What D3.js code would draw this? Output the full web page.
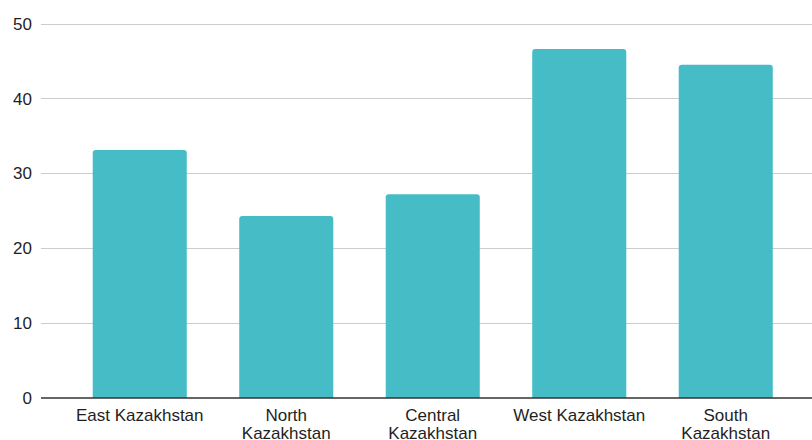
<!DOCTYPE html>
<html lang="en">
<head>
  <meta charset="UTF-8">
  <script src="https://d3js.org/d3.v7.min.js"></script>
  <style>
    body { margin: 0; background: #fff; }
    text { font-family: "Liberation Sans", Arial, sans-serif; fill: #1f1f1f; }
  </style>
  <title>Kazakhstan regions</title>
</head>
<body>
  <svg id="chart" width="812" height="440"></svg>
  <script>
    var regions = [['East Kazakhstan'], ['North', 'Kazakhstan'], ['Central', 'Kazakhstan'], ['West Kazakhstan'], ['South', 'Kazakhstan']];
    var values = [33.1, 24.3, 27.2, 46.6, 44.5];
    var yTicks = [0, 10, 20, 30, 40, 50];

    var svg = d3.select('#chart');
    var names = regions.map(r => r.join(' '));

    var x = d3.scaleBand().domain(names).range([66.5, 799]).paddingInner(0.358).paddingOuter(0.179);
    var y = d3.scaleLinear().domain([0, 50]).range([398, 23.5]);

    // grid lines
    svg.append('g').selectAll('line').data(yTicks.filter(t => t > 0)).enter().append('line')
      .attr('x1', 41).attr('x2', 812)
      .attr('y1', d => Math.round(y(d)) + 0.5).attr('y2', d => Math.round(y(d)) + 0.5)
      .attr('stroke', '#cccccc').attr('stroke-width', 1);

    // y tick labels
    svg.append('g').selectAll('text').data(yTicks).enter().append('text')
      .attr('x', 32).attr('y', d => y(d)).attr('dy', '0.36em')
      .attr('text-anchor', 'end').style('font-size', '17px')
      .text(d => d);

    // bars
    svg.append('g').selectAll('path').data(values).enter().append('path')
      .attr('fill', '#46bdc6')
      .attr('d', function(d, i) {
        var x0 = x(names[i]), w = x.bandwidth(), top = y(d), bot = y(0), r = 3;
        return 'M' + x0 + ',' + bot + 'V' + (top + r) + 'Q' + x0 + ',' + top + ' ' + (x0 + r) + ',' + top +
          'H' + (x0 + w - r) + 'Q' + (x0 + w) + ',' + top + ' ' + (x0 + w) + ',' + (top + r) + 'V' + bot + 'Z';
      });

    // baseline
    svg.append('line').attr('x1', 41).attr('x2', 812).attr('y1', y(0)).attr('y2', y(0))
      .attr('stroke', '#333').attr('stroke-width', 1.5);

    // category labels
    var lab = svg.append('g').selectAll('text').data(regions).enter().append('text')
      .attr('text-anchor', 'middle').style('font-size', '17px')
      .attr('x', (d, i) => x(names[i]) + x.bandwidth() / 2)
      .attr('y', 421);
    lab.selectAll('tspan').data(d => d).enter().append('tspan')
      .attr('x', function() { return d3.select(this.parentNode).attr('x'); })
      .attr('dy', (d, i) => i ? 18 : 0)
      .text(d => d);
  </script>
</body>
</html>
